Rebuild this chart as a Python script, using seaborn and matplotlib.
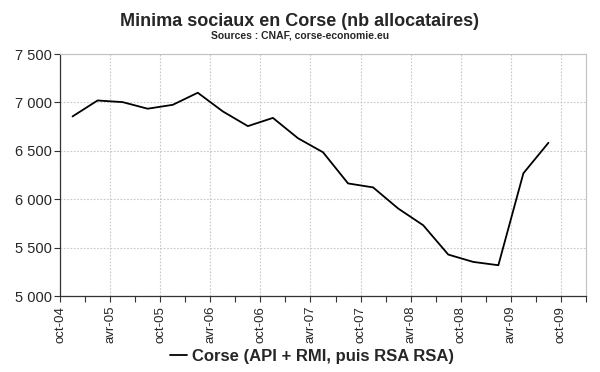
import matplotlib
matplotlib.use("Agg")
import matplotlib.pyplot as plt
import seaborn as sns
import numpy as np
import pandas as pd
from matplotlib.ticker import FixedLocator, FuncFormatter

# Data (quarterly, number of recipients)
tick_labels = ["oct-04", "avr-05", "oct-05", "avr-06", "oct-06", "avr-07",
               "oct-07", "avr-08", "oct-08", "avr-09", "oct-09"]
values = [6855, 7020, 7003, 6935, 6975, 7100, 6907, 6755, 6840, 6630,
          6485, 6163, 6122, 5904, 5731, 5428, 5352, 5318, 6268, 6583]
series_name = "Corse (API + RMI, puis RSA RSA)"
title = "Minima sociaux en Corse (nb allocataires)"
subtitle = "Sources : CNAF, corse-economie.eu"

sns.set_style("white")
plt.rcParams['font.family'] = ['Liberation Sans', 'DejaVu Sans']

df = pd.DataFrame({"quarter": np.arange(len(values)) + 0.5,
                   "value": values,
                   "serie": series_name})

fig = plt.figure(figsize=(6, 3.72), dpi=100)
ax = fig.add_axes([0.1, 0.2043, 0.8767, 0.6505])

sns.lineplot(data=df, x="quarter", y="value", hue="serie",
             palette=["black"], linewidth=1.3, ax=ax, legend=True)

ax.set_xlim(0, 21)
ax.set_ylim(5000, 7500)
ax.xaxis.set_major_locator(FixedLocator(np.arange(0, 2 * len(tick_labels), 2)))
ax.xaxis.set_minor_locator(FixedLocator(np.arange(0, 22, 1)))
ax.set_xticklabels(tick_labels, rotation=90, fontsize=9.5)
ax.set_yticks([5000, 5500, 6000, 6500, 7000, 7500])
ax.yaxis.set_major_formatter(FuncFormatter(lambda v, p: f"{int(v):,}".replace(",", " ")))
ax.tick_params(axis="y", labelsize=10.5, length=4, width=0.8, color="#333333", left=True, pad=2)
ax.tick_params(axis="x", which="both", length=4, width=0.8, color="#333333", bottom=True, pad=3)
ax.set_xlabel("")
ax.set_ylabel("")

ax.grid(True, which="major", axis="both", linestyle=(0, (1.5, 1.5)), color="#c8c8c8", linewidth=0.8)
for s in ["left", "bottom"]:
    ax.spines[s].set_color("#333333")
    ax.spines[s].set_linewidth(0.9)
for s in ["top", "right"]:
    ax.spines[s].set_color("#c0c0c0")
    ax.spines[s].set_linewidth(0.8)

handles, labels = ax.get_legend_handles_labels()
ax.get_legend().remove()
fig.legend(handles, labels, loc="center", bbox_to_anchor=(0.52, 0.041),
           frameon=False, handlelength=1.0, handletextpad=0.3,
           prop={"weight": "bold", "size": 12})

fig.text(0.5, 0.942, title, ha="center", va="center", fontsize=13, fontweight="bold")
fig.text(0.5, 0.905, subtitle, ha="center", va="center", fontsize=7.5, fontweight="bold")

fig.savefig("out.png", dpi=100)
